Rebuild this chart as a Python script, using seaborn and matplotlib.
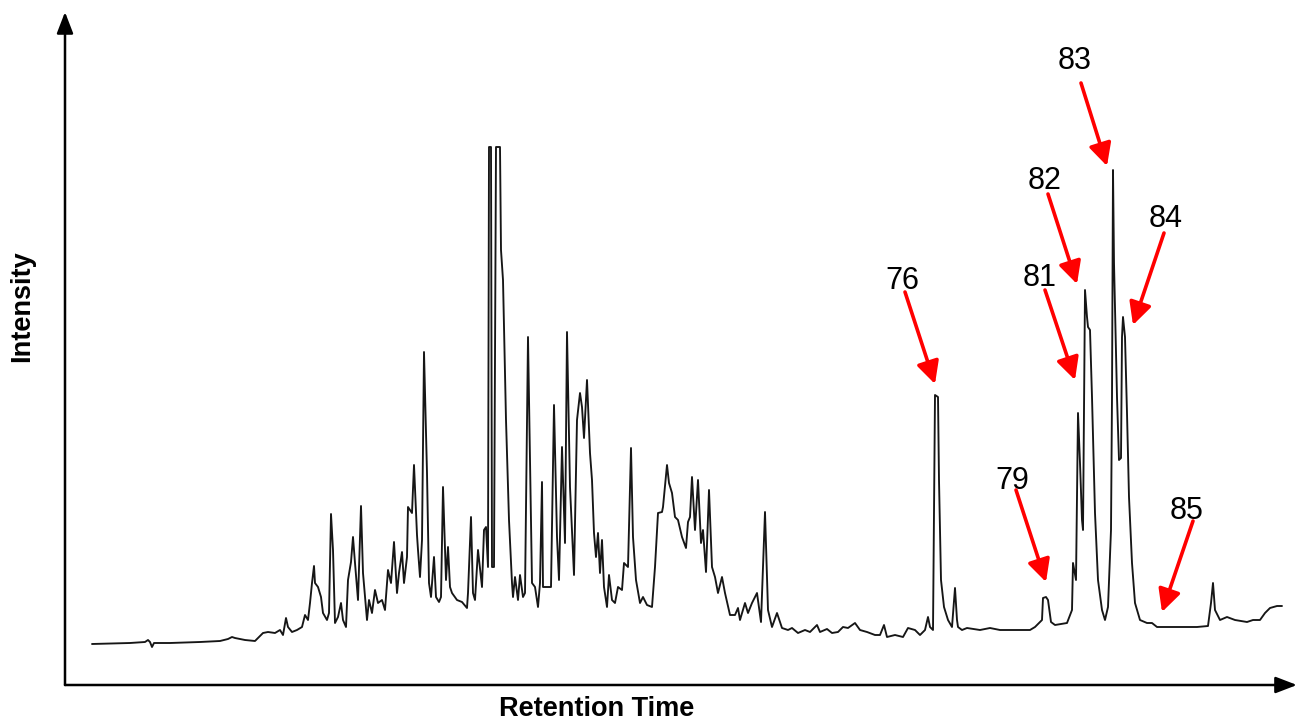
import matplotlib
matplotlib.use("Agg")
import matplotlib.pyplot as plt
import seaborn as sns
import pandas as pd

# ---------------- data: (retention time, intensity) pairs, arbitrary units -------------
trace_baseline = [
    (27, 41), (65, 42), (80, 43), (83, 45), (85, 43), (87, 38), (89, 42), (105, 42), (135, 43),
    (155, 44), (163, 46), (167, 48),
]
trace_early = [
    (170, 47), (180, 45), (190, 44), (198, 52), (203, 53), (210, 52), (215, 55), (218, 50), (221, 67),
    (223, 58), (227, 53), (232, 55), (237, 58), (240, 70), (243, 65), (245, 82), (247, 102), (249, 119),
    (250, 102), (253, 98), (256, 88), (258, 72), (262, 65), (264, 72), (266, 171), (268, 135), (270, 62),
    (273, 68), (276, 82), (278, 65), (281, 58), (283, 105), (286, 123), (288, 148), (290, 122), (293, 85),
    (296, 179), (298, 112), (302, 65), (304, 85), (307, 72),
]
trace_main = [
    (310, 95), (313, 82), (317, 85), (320, 75), (323, 115), (326, 102), (329, 143), (332, 92), (334, 112),
    (337, 133), (339, 102), (342, 128), (343, 178), (347, 172), (349, 220), (352, 150), (353, 135),
    (355, 108), (357, 145), (359, 333), (362, 212), (364, 102), (366, 88), (369, 128), (371, 88), (374, 83),
    (376, 88), (378, 198), (381, 105), (383, 138), (385, 98), (387, 92), (392, 85), (397, 83), (402, 77),
    (403, 92), (406, 168), (408, 92), (410, 85), (413, 135), (417, 98), (419, 155), (421, 158), (423, 118),
    (424, 538), (426, 538), (427, 118), (429, 118), (431, 538), (435, 538), (436, 435), (438, 405),
    (441, 265), (444, 165), (447, 102),
]
trace_cluster = [
    (448, 88), (450, 108), (453, 85), (455, 110), (458, 88), (460, 92), (463, 348), (465, 225), (467, 102),
    (470, 98), (473, 78), (475, 102), (477, 203), (478, 98), (482, 98), (486, 98), (489, 280), (492, 148),
    (494, 105), (497, 238), (500, 142), (502, 353), (505, 198), (509, 110), (512, 265), (515, 292),
    (517, 278), (519, 247), (522, 305), (525, 232), (527, 205), (529, 152), (531, 128), (533, 152),
    (535, 112), (537, 145), (539, 98), (542, 78), (544, 110), (547, 85), (550, 82), (553, 98), (557, 95),
    (559, 122), (563, 118), (566, 237), (568, 148), (571, 105), (575, 82), (578, 88), (582, 80), (587, 78),
]
trace_hump = [
    (590, 118), (593, 172), (597, 173), (598, 178), (602, 220), (604, 202), (607, 192), (610, 168),
    (613, 165), (617, 148), (621, 137), (623, 163), (625, 168), (627, 208), (630, 155), (633, 205),
    (636, 142), (638, 155), (641, 113), (644, 195), (647, 118), (650, 108), (653, 92), (657, 108),
    (660, 92), (665, 70), (670, 70), (673, 77), (675, 65), (680, 82), (683, 72), (687, 82), (692, 92),
    (696, 63), (700, 173), (703, 75), (707, 58), (712, 72), (717, 57), (723, 55),
]
trace_late = [
    (727, 57), (733, 52), (740, 55), (745, 53), (752, 60), (755, 53), (762, 56), (767, 52), (773, 53),
    (778, 58), (783, 57), (790, 62), (795, 55), (802, 53), (810, 50), (815, 50), (819, 60), (822, 48),
    (830, 50), (838, 48), (843, 57), (850, 55), (855, 50), (860, 55), (863, 68), (865, 58), (868, 55),
    (870, 290), (873, 288), (874, 205), (876, 105), (879, 78), (883, 65), (887, 58), (890, 97), (892, 65),
    (893, 58), (897, 55),
]
trace_end = [
    (902, 57), (915, 55), (925, 57), (935, 55), (948, 55), (965, 55), (970, 58), (977, 65), (978, 87),
    (981, 88), (983, 85), (986, 63), (990, 60), (1002, 62), (1007, 75), (1008, 122), (1011, 105),
    (1013, 272), (1015, 222), (1017, 165), (1018, 155), (1020, 395), (1022, 368), (1023, 358), (1025, 355),
    (1027, 288), (1030, 172), (1033, 105), (1037, 75), (1040, 65), (1043, 78), (1046, 155), (1047, 288),
    (1048, 515), (1049, 422), (1052, 288), (1054, 225), (1056, 227), (1057, 348), (1058, 368), (1060, 348),
    (1062, 272), (1064, 188), (1067, 122), (1070, 82), (1075, 65), (1082, 62), (1087, 62), (1092, 58),
    (1102, 58), (1115, 58), (1132, 58), (1143, 59), (1146, 82), (1148, 102), (1150, 75), (1155, 65),
    (1162, 68), (1170, 65), (1182, 63), (1188, 65), (1195, 65), (1200, 72), (1205, 77), (1212, 79),
    (1217, 79),
]

peak_labels = ["76", "79", "81", "82", "83", "84", "85"]

# annotation layout (data units): label centre, arrow start, arrow tip
label_xy = [(837, 404), (947, 204), (975, 407), (980, 504), (1010, 624), (1101, 466), (1122, 174)]
arrow_from = [(840, 393), (951, 195), (980, 395), (983, 491), (1016, 602), (1099, 452), (1128, 164)]
arrow_to = [(870, 301), (981, 103), (1010, 305), (1012, 401), (1042, 519), (1068, 360), (1097, 73)]

# ---------------- plot ----------------
sns.set_theme(style="white")
plt.rcParams["font.family"] = ["Liberation Sans", "DejaVu Sans"]
plt.rcParams["text.color"] = "black"

points = (trace_baseline + trace_early + trace_main + trace_cluster
          + trace_hump + trace_late + trace_end)
df = pd.DataFrame(points, columns=["Retention Time", "Intensity"])

fig = plt.figure(figsize=(13, 7.2), dpi=100)
ax = fig.add_axes([65 / 1300, 35 / 720, 1220 / 1300, 660 / 720])

sns.lineplot(data=df, x="Retention Time", y="Intensity", color="#161616",
             linewidth=1.35, sort=False, estimator=None, ax=ax)

ax.set_xlim(0, 1220)
ax.set_ylim(0, 660)
ax.set_xticks([])
ax.set_yticks([])
for s in ax.spines.values():
    s.set_visible(False)
ax.set_xlabel("")
ax.set_ylabel("")
ax.set_facecolor("white")

# axis arrows
axis_style = "-|>,head_length=0.65,head_width=0.25"
ax.annotate("", xy=(0, 1.0197), xytext=(0, 0), xycoords="axes fraction",
            arrowprops=dict(arrowstyle=axis_style, color="black", lw=1.8,
                            mutation_scale=20, shrinkA=0, shrinkB=0), annotation_clip=False)
ax.annotate("", xy=(1.0098, 0), xytext=(0, 0), xycoords="axes fraction",
            arrowprops=dict(arrowstyle=axis_style, color="black", lw=1.8,
                            mutation_scale=20, shrinkA=0, shrinkB=0), annotation_clip=False)

fig.text(597 / 1300, 1 - 709 / 720, "Retention Time", ha="center", va="center",
         fontsize=19.5, fontweight="bold", color="black")
fig.text(22 / 1300, 1 - 306 / 720, "Intensity", ha="center", va="center",
         rotation=90, fontsize=19.5, fontweight="bold", color="black")

# peak annotations
red_style = "-|>,head_length=0.75,head_width=0.38"
for lab, lxy, a0, a1 in zip(peak_labels, label_xy, arrow_from, arrow_to):
    ax.text(lxy[0], lxy[1], lab, ha="center", va="center", fontsize=22, color="black")
    ax.annotate("", xy=a1, xytext=a0,
                arrowprops=dict(arrowstyle=red_style, color="#ff0000", lw=2.6,
                                mutation_scale=18, shrinkA=0, shrinkB=0))

fig.savefig("out.png", dpi=100, facecolor="white")
